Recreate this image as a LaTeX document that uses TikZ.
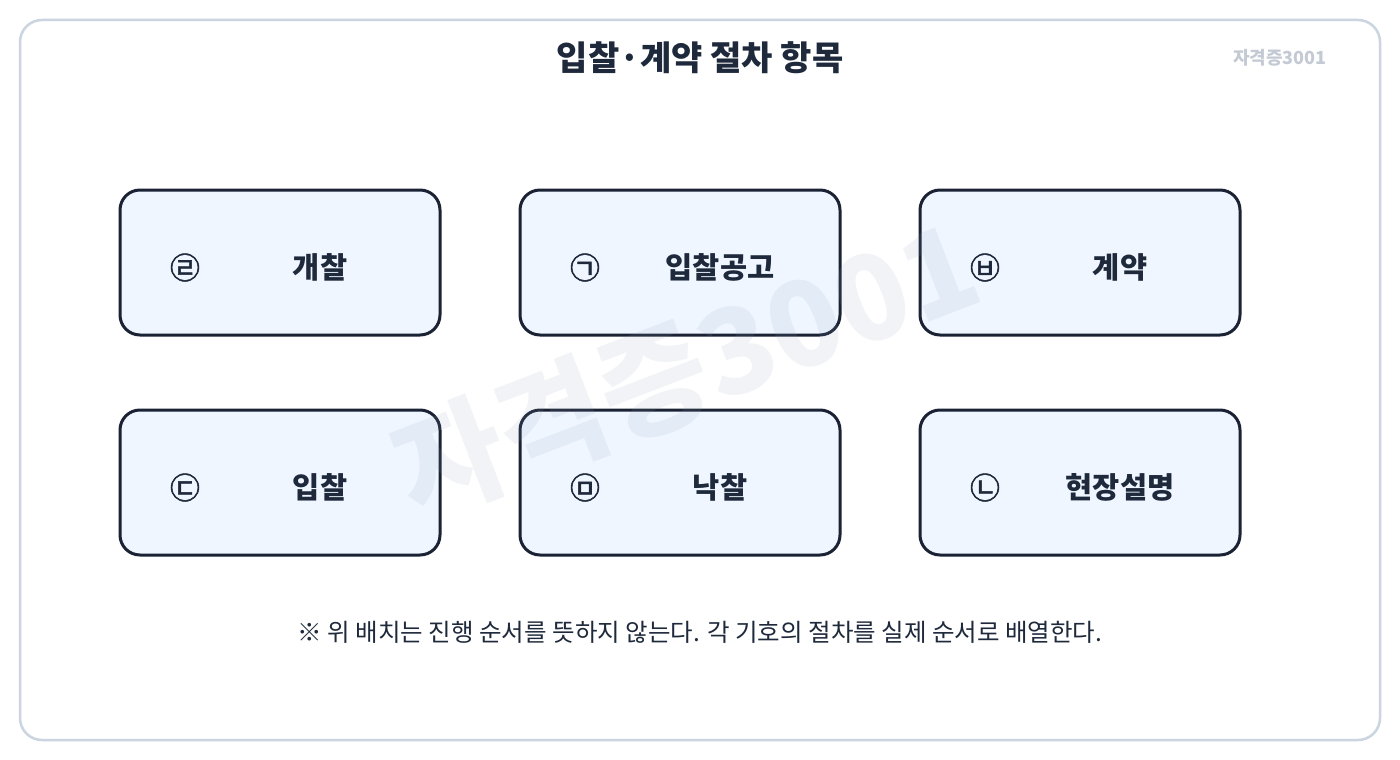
\documentclass[tikz,border=0pt]{standalone}
\usepackage{fontspec}
\setmainfont{Noto Sans CJK KR}
\newfontfamily\symfont[FakeBold=1.8]{Noto Sans CJK KR}
\usetikzlibrary{positioning}
\definecolor{framecol}{HTML}{CBD5E1}
\definecolor{tagcol}{HTML}{C4CAD4}
\definecolor{boxfill}{HTML}{EFF6FF}
\definecolor{boxline}{HTML}{1A2233}
\definecolor{inkcol}{HTML}{1E293B}
\definecolor{wmcol}{HTML}{94A3B8}
\begin{document}
\begin{tikzpicture}[x=1pt,y=-1pt,
  itembox/.style={draw=boxline, line width=3pt, fill=boxfill, rounded corners=20pt,
    minimum width=320pt, minimum height=145pt, inner sep=0pt},
  symtxt/.style={font=\symfont\fontsize{30}{34}\selectfont, text=inkcol, inner sep=0pt},
  labtxt/.style={font=\bfseries\fontsize{29.5}{34}\selectfont, text=inkcol, inner sep=0pt}]
\useasboundingbox (0,0) rectangle (1400,760);
\fill[white] (0,0) rectangle (1400,760);
\draw[framecol, line width=2.5pt, rounded corners=22pt] (20,20) rectangle (1380,740);
\node[font=\bfseries\fontsize{34}{40}\selectfont, text=inkcol] (title) at (700,58) {입찰·계약 절차 항목};
\node[font=\bfseries\fontsize{18}{21}\selectfont, text=tagcol] (tag) at (1280,58) {자격증3001};
% boxes
\node[itembox] (b1) at (280,262.5) {};
\node[itembox] (b2) at (680,262.5) {};
\node[itembox] (b3) at (1080,262.5) {};
\node[itembox] (b4) at (280,482.5) {};
\node[itembox] (b5) at (680,482.5) {};
\node[itembox] (b6) at (1080,482.5) {};
% symbols and labels
\node[symtxt] (s1) at ([xshift=-95pt,yshift=-5pt]b1.center) {㉣};
\node[labtxt] (l1) at ([xshift=40pt,yshift=-5pt]b1.center) {개찰};
\node[symtxt] (s2) at ([xshift=-95pt,yshift=-5pt]b2.center) {㉠};
\node[labtxt] (l2) at ([xshift=40pt,yshift=-5pt]b2.center) {입찰공고};
\node[symtxt] (s3) at ([xshift=-95pt,yshift=-5pt]b3.center) {㉥};
\node[labtxt] (l3) at ([xshift=40pt,yshift=-5pt]b3.center) {계약};
\node[symtxt] (s4) at ([xshift=-95pt,yshift=-5pt]b4.center) {㉢};
\node[labtxt] (l4) at ([xshift=40pt,yshift=-5pt]b4.center) {입찰};
\node[symtxt] (s5) at ([xshift=-95pt,yshift=-5pt]b5.center) {㉤};
\node[labtxt] (l5) at ([xshift=40pt,yshift=-5pt]b5.center) {낙찰};
\node[symtxt] (s6) at ([xshift=-95pt,yshift=-5pt]b6.center) {㉡};
\node[labtxt] (l6) at ([xshift=40pt,yshift=-5pt]b6.center) {현장설명};
% watermark
\node[font=\bfseries\fontsize{118}{130}\selectfont, text=wmcol, text opacity=0.12, rotate=21, inner sep=0pt] (wm) at (686,368) {자격증3001};
% footer
\node[font=\fontsize{24.5}{28}\selectfont, text=inkcol] (note) at (700,632) {※ 위 배치는 진행 순서를 뜻하지 않는다. 각 기호의 절차를 실제 순서로 배열한다.};
\end{tikzpicture}
\end{document}
